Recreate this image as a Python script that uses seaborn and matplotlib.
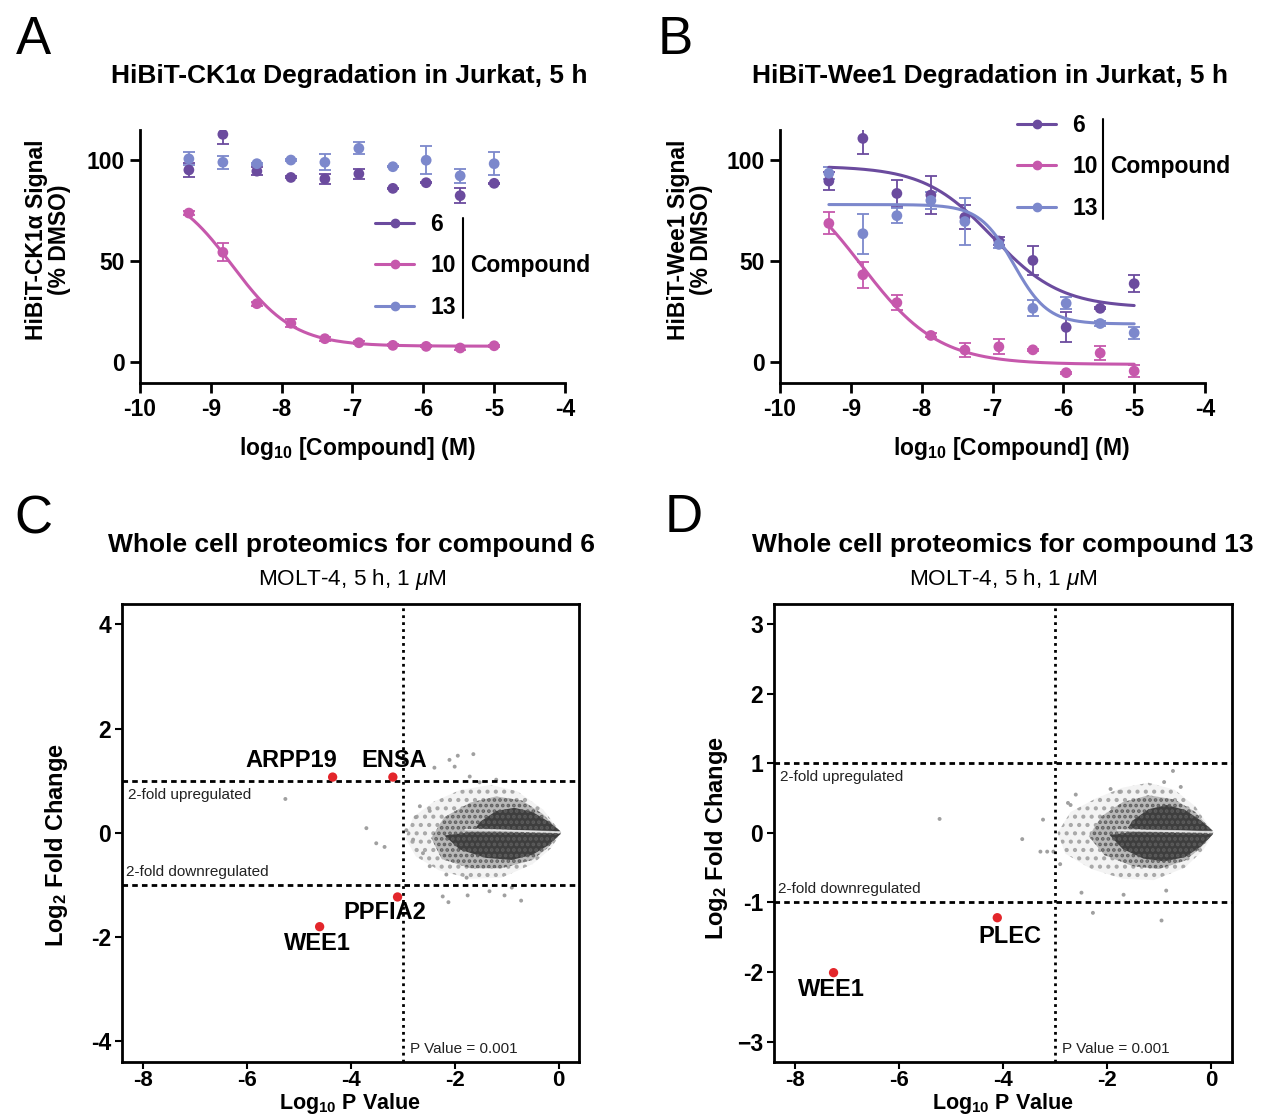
import numpy as np
import pandas as pd
import matplotlib.pyplot as plt
from matplotlib.lines import Line2D
import seaborn as sns

sns.set_style("ticks")
plt.rcParams['font.family'] = ['Liberation Sans', 'DejaVu Sans']
plt.rcParams['mathtext.fontset'] = 'custom'
plt.rcParams['mathtext.rm'] = 'Liberation Sans'
plt.rcParams['mathtext.it'] = 'Liberation Sans:italic'
plt.rcParams['mathtext.bf'] = 'Liberation Sans:bold'
plt.rcParams['axes.unicode_minus'] = False
plt.rcParams['hatch.linewidth'] = 1.8
for k in ['text.color', 'axes.labelcolor', 'xtick.color', 'ytick.color', 'axes.edgecolor']:
    plt.rcParams[k] = 'black'

# ---- dose response data (log10 M, % DMSO) ----
log_dose = [-9.31, -8.83, -8.35, -7.87, -7.39, -6.91, -6.43, -5.96, -5.48, -5.00]

# panel A: CK1a
ck1_6 = [95.1, 112.7, 94.5, 91.4, 90.7, 93.2, 86.0, 88.8, 82.4, 88.5]
ck1_6_err = [3.4, 5.0, 2.0, 0.5, 2.5, 2.5, 0.3, 0.3, 3.6, 0.3]
ck1_10 = [73.8, 54.4, 29.0, 19.3, 11.7, 9.7, 8.4, 7.9, 7.1, 8.2]
ck1_10_err = [0.8, 4.5, 1.0, 2.0, 1.0, 0.8, 0.5, 0.5, 0.8, 0.5]
ck1_13 = [100.6, 98.9, 98.2, 100.0, 98.9, 105.8, 96.7, 99.9, 92.2, 98.2]
ck1_13_err = [3.2, 3.3, 0.5, 0.3, 4.0, 3.0, 0.3, 6.9, 3.5, 5.6]

# panel B: Wee1
wee_6 = [89.6, 110.7, 83.5, 82.7, 71.7, 60.0, 50.4, 17.3, 26.7, 38.9]
wee_6_err = [4.5, 7.8, 6.8, 9.4, 6.0, 2.2, 7.0, 7.4, 0.5, 4.3]
wee_10 = [68.7, 43.3, 29.5, 13.3, 6.1, 7.7, 6.2, -5.1, 4.6, -4.3]
wee_10_err = [5.4, 6.3, 3.7, 1.0, 3.5, 3.8, 0.5, 0.5, 3.5, 3.0]
wee_13 = [93.5, 63.6, 72.5, 80.0, 69.6, 58.3, 26.7, 29.2, 19.2, 14.6]
wee_13_err = [3.0, 9.8, 3.7, 4.0, 11.7, 2.0, 4.0, 3.0, 1.0, 3.0]

# 4PL fit parameters (bottom, top, logIC50, hill)
ck1_fit_10 = (8.0, 88.0, -8.70, 1.0)
wee_fit_6 = (27.0, 97.0, -7.00, 0.9)
wee_fit_10 = (-1.0, 97.0, -8.85, 0.8)
wee_fit_13 = (19.0, 78.0, -6.70, 1.8)

compounds = ["6", "10", "13"]
cmp_colors = {"6": "#6b4b9e", "10": "#c658ac", "13": "#7c88cc"}

# ---- volcano data (log10 p, log2 FC) ----
fc_thresh = 1.0
p_thresh = -3.0

c_hits_name = ["ARPP19", "ENSA", "PPFIA2", "WEE1"]
c_hits_x = [-4.35, -3.19, -3.10, -4.60]
c_hits_y = [1.07, 1.07, -1.23, -1.80]
d_hits_name = ["WEE1", "PLEC"]
d_hits_x = [-7.26, -4.11]
d_hits_y = [-2.01, -1.22]

# bulk of the protein cloud, drawn as density outlines (halo / mid / dense lobes)
c_halo_x = [0.05, -0.3, -0.8, -1.3, -1.9, -2.4, -2.8, -2.95, -2.75, -2.3, -1.7, -1.1, -0.5, -0.15, 0.05]
c_halo_y = [0.0, 0.45, 0.80, 0.92, 0.82, 0.60, 0.30, -0.10, -0.45, -0.72, -0.88, -0.86, -0.60, -0.30, 0.0]
c_mid_x = [0.05, -0.3, -0.7, -1.2, -1.7, -2.2, -2.45, -2.25, -1.7, -1.1, -0.5, -0.2, 0.05]
c_mid_y = [0.0, 0.36, 0.62, 0.70, 0.58, 0.30, -0.10, -0.50, -0.68, -0.68, -0.52, -0.28, 0.0]
c_up_x = [0.04, -0.2, -0.5, -0.85, -1.2, -1.5, -1.6, -1.2, -0.6, -0.2, 0.04]
c_up_y = [0.03, 0.22, 0.40, 0.48, 0.42, 0.22, 0.09, 0.07, 0.05, 0.04, 0.03]
c_lo_x = [0.04, -0.2, -0.5, -0.9, -1.4, -1.9, -2.2, -1.7, -0.8, -0.2, 0.04]
c_lo_y = [-0.02, -0.24, -0.42, -0.52, -0.48, -0.32, -0.05, 0.01, 0.0, -0.01, -0.02]
c_out_x = [-5.26, -3.70, -3.51, -3.35, -2.10, -1.94, -1.64, -2.39, -2.00, -1.71, -1.52, -2.67,
           -2.48, -2.80, -2.61, -2.48, -2.16, -1.77, -2.23, -2.12, -1.75, -1.04, -0.72, -1.33,
           -2.93, -2.75, -1.20, -0.90]
c_out_y = [0.65, 0.09, -0.20, -0.27, 1.40, 1.48, 1.51, 1.25, 1.27, 1.08, 0.97, 0.51,
           0.42, -0.13, -0.39, -0.64, -0.80, -0.86, -1.22, -1.33, -1.20, -1.20, -1.30, -1.12,
           0.05, 0.30, 1.02, -1.05]

d_halo_x = [0.05, -0.3, -0.7, -1.2, -1.7, -2.2, -2.7, -2.95, -2.8, -2.3, -1.7, -1.1, -0.5, -0.15, 0.05]
d_halo_y = [0.0, 0.38, 0.62, 0.72, 0.65, 0.50, 0.30, 0.0, -0.30, -0.52, -0.66, -0.68, -0.50, -0.25, 0.0]
d_mid_x = [0.05, -0.3, -0.7, -1.2, -1.7, -2.1, -2.35, -2.05, -1.5, -1.0, -0.5, -0.2, 0.05]
d_mid_y = [0.0, 0.30, 0.48, 0.54, 0.44, 0.24, -0.05, -0.32, -0.48, -0.52, -0.40, -0.22, 0.0]
d_up_x = [0.04, -0.2, -0.5, -0.85, -1.2, -1.5, -1.6, -1.3, -0.6, -0.2, 0.04]
d_up_y = [0.03, 0.18, 0.33, 0.40, 0.34, 0.18, 0.07, 0.05, 0.04, 0.03, 0.03]
d_lo_x = [0.04, -0.2, -0.5, -0.9, -1.3, -1.7, -1.95, -1.5, -0.8, -0.2, 0.04]
d_lo_y = [-0.02, -0.20, -0.35, -0.41, -0.37, -0.23, -0.03, 0.01, 0.0, -0.01, -0.02]
d_out_x = [-5.22, -3.63, -3.28, -3.15, -3.03, -2.75, -2.70, -2.49, -2.27, -0.95, -1.68, -0.86,
           -0.73, -0.90, -0.58, -1.93, -1.76, -3.23, -2.60, -2.90]
d_out_y = [0.20, -0.09, -0.27, -0.27, -0.27, 0.43, 0.40, -0.86, -1.15, -1.26, -0.89, -0.83,
           0.89, 0.73, 0.66, 0.63, 0.59, 0.19, 0.55, -0.45]

# the pale streak of unchanged proteins through the dense core
c_streak_x = [0.03, -0.6, -1.2, -1.8]
c_streak_y = [0.01, 0.03, 0.05, 0.06]
d_streak_x = [0.03, -0.6, -1.2, -1.8]
d_streak_y = [0.01, 0.02, 0.03, 0.04]

W, H = 1262, 1118
fig = plt.figure(figsize=(W / 100, H / 100), dpi=100)


def px(x, y):
    return x / W, 1 - y / H


def add_ax(l, t, r, b):
    return fig.add_axes([l / W, 1 - b / H, (r - l) / W, (b - t) / H])


def four_pl(x, p):
    bottom, top, ic50, hill = p
    return bottom + (top - bottom) / (1 + 10 ** ((x - ic50) * hill))


def dose_panel(ax, series, fits, leg_x, leg_y):
    for name, vals, errs in series:
        col = cmp_colors[name]
        ax.errorbar(log_dose, vals, yerr=errs, fmt='none', ecolor=col,
                    elinewidth=1.3, capsize=4, capthick=1.3, zorder=2)
        sns.scatterplot(x=log_dose, y=vals, color=col, s=60, edgecolor='none',
                        ax=ax, zorder=3)
        if name in fits:
            xx = np.linspace(log_dose[0], log_dose[-1], 200)
            sns.lineplot(x=xx, y=four_pl(xx, fits[name]), color=col, lw=2.2,
                         ax=ax, zorder=3)
    ax.set_xlim(-10, -4)
    ax.set_ylim(-10.2, 115)
    ax.set_xticks(range(-10, -3), labels=[str(v) for v in range(-10, -3)],
                  fontsize=16.5, fontweight='bold')
    ax.set_yticks([0, 50, 100], labels=["0", "50", "100"], fontsize=16.5, fontweight='bold')
    sns.despine(ax=ax)
    for s in ["left", "bottom"]:
        ax.spines[s].set_linewidth(2)
    ax.tick_params(length=7, width=2, pad=4)
    handles = [Line2D([], [], color=cmp_colors[c], marker='o', markersize=6, lw=2.2)
               for c in compounds]
    ax.legend(handles, compounds, loc='center left', bbox_to_anchor=(leg_x, leg_y),
              frameon=False, borderpad=0, borderaxespad=0, handlelength=1.7,
              handletextpad=0.7, labelspacing=0.8, prop={'size': 16.5, 'weight': 'bold'})
    ax.plot([0.760, 0.760], [leg_y + 0.19, leg_y - 0.205], color='black', lw=1.5,
            transform=ax.transAxes, clip_on=False)
    ax.text(0.776, leg_y, "Compound", transform=ax.transAxes, ha='left', va='center',
            fontsize=16.5, fontweight='bold')


axA = add_ax(140, 129.7, 565, 383)
dose_panel(axA, [("6", ck1_6, ck1_6_err), ("13", ck1_13, ck1_13_err), ("10", ck1_10, ck1_10_err)],
           {"10": ck1_fit_10}, 0.553, 0.462)
axB = add_ax(780, 129.7, 1205, 383)
dose_panel(axB, [("6", wee_6, wee_6_err), ("13", wee_13, wee_13_err), ("10", wee_10, wee_10_err)],
           {"6": wee_fit_6, "10": wee_fit_10, "13": wee_fit_13}, 0.558, 0.853)


def volcano(ax, cloud, streak, outx, outy, hx, hy, names, offsets, ylim, yticks, ylabels):
    halo_x, halo_y, mid_x, mid_y, up_x, up_y, lo_x, lo_y = cloud
    ax.fill(halo_x, halo_y, facecolor='#f3f3f3', edgecolor='none', zorder=1)
    ax.fill(halo_x, halo_y, facecolor='none', edgecolor='#a8a8a8', hatch='..', lw=0, zorder=1)
    ax.fill(mid_x, mid_y, facecolor='#b8b8b8', edgecolor='none', zorder=1)
    ax.fill(mid_x, mid_y, facecolor='none', edgecolor='#606060', hatch='...', lw=0, zorder=1)
    for lx, ly in [(up_x, up_y), (lo_x, lo_y)]:
        ax.fill(lx, ly, facecolor='#3e3e3e', edgecolor='none', zorder=2)
        ax.fill(lx, ly, facecolor='none', edgecolor='#5c5c5c', hatch='...', lw=0, zorder=2)
    sns.lineplot(x=streak[0], y=streak[1], color='#e6e6e6', lw=1.1, sort=False, ax=ax, zorder=2)
    sns.scatterplot(x=outx, y=outy, color='#a0a0a0', s=8, edgecolor='none', ax=ax, zorder=2)
    ax.axhline(fc_thresh, color='black', lw=2, ls=(0, (2, 1.5)), zorder=3)
    ax.axhline(-fc_thresh, color='black', lw=2, ls=(0, (2, 1.5)), zorder=3)
    ax.axvline(p_thresh, color='black', lw=2, ls=(0, (1, 1.5)), zorder=3)
    sns.scatterplot(x=hx, y=hy, color='#e3262b', s=45, edgecolor='none', ax=ax, zorder=4)
    for n, x, y, off in zip(names, hx, hy, offsets):
        ax.annotate(n, (x, y), xytext=off, textcoords='offset points', ha='center',
                    va='center', fontsize=17, fontweight='bold', zorder=5)
    ax.annotate("2-fold upregulated", (0.012, fc_thresh), xycoords=('axes fraction', 'data'),
                xytext=(0, -10), textcoords='offset points', ha='left', va='center',
                fontsize=11, color='#222222')
    ax.annotate("2-fold downregulated", (0.008, -fc_thresh), xycoords=('axes fraction', 'data'),
                xytext=(0, 9.5), textcoords='offset points', ha='left', va='center',
                fontsize=11, color='#222222')
    ax.annotate("P Value = 0.001", (p_thresh, 0), xycoords=('data', 'axes fraction'),
                xytext=(5, 9), textcoords='offset points', ha='left', va='center',
                fontsize=11, color='#222222')
    ax.set_xlim(-8.4, 0.4)
    ax.set_ylim(*ylim)
    ax.set_xticks(range(-8, 1, 2), labels=[str(v) for v in range(-8, 1, 2)],
                  fontsize=16, fontweight='bold')
    ax.set_yticks(yticks, labels=ylabels, fontsize=16.5, fontweight='bold')
    for s in ax.spines.values():
        s.set_linewidth(2)
    ax.tick_params(length=5, width=1.5, pad=3)
    ax.tick_params(axis='x', pad=1)


axC = add_ax(122.3, 604, 579.3, 1061.7)
volcano(axC, (c_halo_x, c_halo_y, c_mid_x, c_mid_y, c_up_x, c_up_y, c_lo_x, c_lo_y),
        (c_streak_x, c_streak_y), c_out_x, c_out_y, c_hits_x, c_hits_y, c_hits_name,
        [(-29.5, 12.2), (0.7, 12.2), (-9, -11.2), (-1.4, -12.2)],
        (-4.39, 4.39), [-4, -2, 0, 2, 4], ["-4", "-2", "0", "2", "4"])
axD = add_ax(774.3, 604, 1231.7, 1061.7)
volcano(axD, (d_halo_x, d_halo_y, d_mid_x, d_mid_y, d_up_x, d_up_y, d_lo_x, d_lo_y),
        (d_streak_x, d_streak_y), d_out_x, d_out_y, d_hits_x, d_hits_y, d_hits_name,
        [(-1.4, -12.2), (9, -13.7)],
        (-3.29, 3.29), [-3, -2, -1, 0, 1, 2, 3], ["\u22123", "-2", "-1", "0", "1", "2", "3"])

# ---- titles, axis labels and panel letters ----
title_kw = dict(ha='center', va='center', fontsize=19, fontweight='bold')
fig.text(*px(349, 76), "HiBiT-CK1\u03b1 Degradation in Jurkat, 5 h", **title_kw)
fig.text(*px(990, 76), "HiBiT-Wee1 Degradation in Jurkat, 5 h", **title_kw)
fig.text(*px(352, 545), "Whole cell proteomics for compound 6", **title_kw)
fig.text(*px(1003, 545), "Whole cell proteomics for compound 13", **title_kw)
sub = r"MOLT-4, 5 h, 1 $\mathit{\mu}$M"
fig.text(*px(352, 579), sub, ha='center', va='center', fontsize=16.2)
fig.text(*px(1003, 579), sub, ha='center', va='center', fontsize=16.2)

ylab_kw = dict(ha='center', va='center', rotation=90, fontsize=16.5, fontweight='bold',
               multialignment='center', linespacing=1.0)
fig.text(*px(48, 240), "HiBiT-CK1\u03b1 Signal\n(% DMSO)", **ylab_kw)
fig.text(*px(690, 240), "HiBiT-Wee1 Signal\n(% DMSO)", **ylab_kw)
xlab = r"log$_{\mathbf{10}}$ [Compound] (M)"
fig.text(*px(357, 448), xlab, ha='center', va='center', fontsize=16.5, fontweight='bold')
fig.text(*px(1011, 448), xlab, ha='center', va='center', fontsize=16.5, fontweight='bold')

vlab_kw = dict(ha='center', va='center', rotation=90, fontsize=17, fontweight='bold')
fig.text(*px(57, 845), r"Log$_{\mathbf{2}}$ Fold Change", **vlab_kw)
fig.text(*px(716, 838), r"Log$_{\mathbf{2}}$ Fold Change", **vlab_kw)
plab = r"Log$_{\mathbf{10}}$ P Value"
fig.text(*px(350, 1104), plab, ha='center', va='center', fontsize=15.5, fontweight='bold')
fig.text(*px(1003, 1104), plab, ha='center', va='center', fontsize=15.5, fontweight='bold')

letter_kw = dict(ha='center', va='center', fontsize=38)
fig.text(*px(33, 40), "A", **letter_kw)
fig.text(*px(675, 40), "B", **letter_kw)
fig.text(*px(33, 520), "C", **letter_kw)
fig.text(*px(684, 518), "D", **letter_kw)

fig.savefig("out.png", dpi=100)
